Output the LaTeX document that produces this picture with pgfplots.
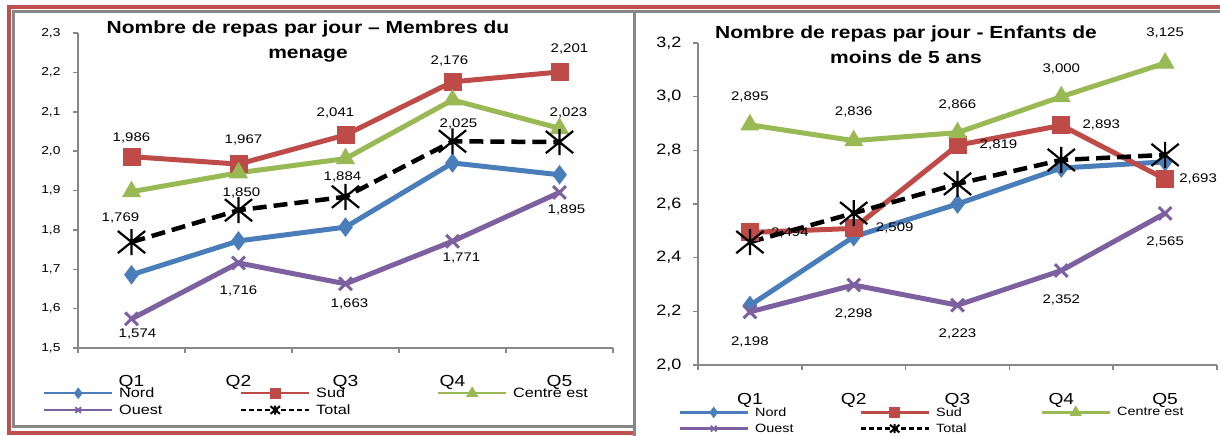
\documentclass[border=0pt]{standalone}
\usepackage{pgfplots}
\pgfplotsset{compat=1.18}
\usepackage{fontspec}
\setmainfont{Liberation Sans}[FakeStretch=1.2]

\definecolor{cnord}{HTML}{4A7EBB}
\definecolor{csud}{HTML}{BE4B48}
\definecolor{ccentre}{HTML}{98B954}
\definecolor{couest}{HTML}{7D60A0}
\definecolor{cframe}{HTML}{C0504D}
\definecolor{caxis}{HTML}{878787}

% a cross with a vertical bar through it
\pgfdeclareplotmark{xbar}{%
  \pgfpathmoveto{\pgfqpoint{0pt}{\pgfplotmarksize}}%
  \pgfpathlineto{\pgfqpoint{0pt}{-\pgfplotmarksize}}%
  \pgfpathmoveto{\pgfqpoint{-1.05\pgfplotmarksize}{0.85\pgfplotmarksize}}%
  \pgfpathlineto{\pgfqpoint{1.05\pgfplotmarksize}{-0.85\pgfplotmarksize}}%
  \pgfpathmoveto{\pgfqpoint{-1.05\pgfplotmarksize}{-0.85\pgfplotmarksize}}%
  \pgfpathlineto{\pgfqpoint{1.05\pgfplotmarksize}{0.85\pgfplotmarksize}}%
  \pgfusepathqstroke}

% value printed next to a point, three decimals with a decimal comma
\newcommand\lab{\pgfmathprintnumber[fixed,fixed zerofill,precision=3,use comma]{\pgfplotspointmeta}}
\def\leglw{2pt}

\pgfplotsset{
  repas/.style={
    scale only axis, clip=false,
    xmin=0.5, xmax=5.5,
    axis lines*=left,
    axis line style={caxis, line width=2.5pt},
    xtick={1,2,3,4,5}, xticklabels={Q1,Q2,Q3,Q4,Q5},
    minor xtick={0.5,1.5,2.5,3.5,4.5,5.5},
    major x tick style={draw=none},
    minor x tick style={caxis, line width=1.5pt},
    major y tick style={caxis, line width=1.5pt},
    tick align=outside,
    major tick length=5pt, minor tick length=5pt,
    xticklabel style={anchor=base, yshift=-34pt, font=\fontsize{16}{19}\selectfont},
    /pgf/number format/use comma,
    /pgf/number format/fixed,
    /pgf/number format/fixed zerofill,
    /pgf/number format/precision=1,
    /pgf/number format/assume math mode=true,
    every node near coord/.append style={text=black, font=\fontsize{12.5}{14}\selectfont},
    legend columns=3,
    legend cell align=left,
    legend image code/.code={\draw[mark repeat=2,mark phase=2,##1] plot coordinates {(0pt,0pt) (34pt,0pt) (68pt,0pt)};},
    legend style={draw=none, fill=none, inner sep=0pt, anchor=north west, row sep=5.5pt,
      nodes={inner sep=0pt}, /tikz/every odd column/.append style={column sep=6pt}},
  },
  nord/.style={cnord, line width=5pt, mark=diamond*, mark size=9pt, mark options={solid, line width=1pt},
    legend image post style={line width=\leglw, mark size=5pt}},
  sud/.style={csud, line width=5pt, mark=square*, mark size=8.5pt, mark options={solid, line width=1pt},
    legend image post style={line width=\leglw, mark size=5pt}},
  centre/.style={ccentre, line width=5pt, mark=triangle*, mark size=10pt, mark options={solid, line width=1pt},
    legend image post style={line width=\leglw, mark size=6pt}},
  ouest/.style={couest, line width=5pt, mark=x, mark size=9pt, mark options={solid, line width=3pt},
    legend image post style={line width=\leglw, mark size=4pt, mark options={line width=1.8pt}}},
  total/.style={black, line width=4.5pt, dash pattern=on 14pt off 7pt, mark=xbar, mark size=13pt,
    mark options={solid, line width=2.2pt},
    legend image post style={line width=\leglw, dash pattern=on 5pt off 3pt, mark size=4.5pt, mark options={solid, line width=2pt}}},
  % labels at given offsets from each of the five points
  lbl/.style 2 args={nodes near coords=\lab,
    visualization depends on={value \coordindex \as \idx},
    every node near coord/.append style={anchor=center, xshift={{#1}[\idx]}, yshift={{#2}[\idx]}}},
}

\begin{document}
\begin{tikzpicture}[x=1pt,y=1pt]
\useasboundingbox (0,0) rectangle (1220,436);
\clip (0,0) rectangle (1220,436);
% panel frames
\draw[cframe, line width=4pt] (9,3) rectangle (1240,428.5);
\draw[caxis, line width=3pt, fill=white] (13,9.5) rectangle (645,424.6);
\filldraw[fill=white, draw=caxis, line width=3pt] (634.5,-20) rectangle (1250,424.5);

% household members
\def\leglw{2pt}
\begin{axis}[repas, at={(78pt,88pt)}, anchor=south west, width=535pt, height=315pt,
  ymin=1.5, ymax=2.3, ytick={1.5,1.6,1.7,1.8,1.9,2.0,2.1,2.2,2.3},
  yticklabel style={font=\fontsize{11.5}{13}\selectfont, xshift=-9pt},
  legend style={at={(axis description cs:-0.0654,-0.124)}, font=\fontsize{13.5}{16}\selectfont},
]
\addplot[nord] coordinates {(1,1.686) (2,1.772) (3,1.807) (4,1.970) (5,1.940)};
\addlegendentry{\makebox[121pt][l]{Nord}}
\addplot[sud, lbl={0,5,-10,-3,10}{19,24,22,21,23}]
  coordinates {(1,1.986) (2,1.967) (3,2.041) (4,2.176) (5,2.201)};
\addlegendentry{\makebox[121pt][l]{Sud}}
\addplot[centre] coordinates {(1,1.897) (2,1.945) (3,1.981) (4,2.130) (5,2.058)};
\addlegendentry{Centre est}
\addplot[ouest, lbl={6,0,4,9,7}{-15,-28,-20,-17,-17}]
  coordinates {(1,1.574) (2,1.716) (3,1.663) (4,1.771) (5,1.895)};
\addlegendentry{\makebox[121pt][l]{Ouest}}
\addplot[total, lbl={-11,3,-3,6,9}{24,17,20,17,29}]
  coordinates {(1,1.769) (2,1.850) (3,1.884) (4,2.025) (5,2.023)};
\addlegendentry{\makebox[121pt][l]{Total}}
\end{axis}
\node[font=\bfseries\fontsize{17.5}{25}\selectfont, align=center] at (308,394.5)
  {Nombre de repas par jour -- Membres du\\menage};

% children under five
\def\leglw{3pt}
\begin{axis}[repas, at={(698pt,71pt)}, anchor=south west, width=519pt, height=322pt,
  ymin=2.0, ymax=3.2, ytick={2.0,2.2,2.4,2.6,2.8,3.0,3.2},
  yticklabel style={font=\fontsize{15}{18}\selectfont, xshift=-8pt},
  legend style={at={(axis description cs:-0.0385,-0.128)}, font=\fontsize{12}{14}\selectfont, row sep=6pt},
]
\addplot[nord] coordinates {(1,2.222) (2,2.478) (3,2.600) (4,2.734) (5,2.757)};
\addlegendentry{\makebox[104pt][l]{Nord}}
\addplot[sud, lbl={40,41,41,40,33}{0,0,0,0,0}]
  coordinates {(1,2.494) (2,2.509) (3,2.819) (4,2.893) (5,2.693)};
\addlegendentry{\makebox[104pt][l]{Sud}}
\addplot[centre, lbl={0,0,0,0,0}{28,29,28,28,30}]
  coordinates {(1,2.895) (2,2.836) (3,2.866) (4,3.000) (5,3.125)};
\addlegendentry{Centre est}
\addplot[ouest, lbl={0,0,0,0,0}{-30,-29,-29,-29,-29}]
  coordinates {(1,2.198) (2,2.298) (3,2.223) (4,2.352) (5,2.565)};
\addlegendentry{\makebox[104pt][l]{Ouest}}
\addplot[total] coordinates {(1,2.458) (2,2.566) (3,2.675) (4,2.764) (5,2.783)};
\addlegendentry{\makebox[104pt][l]{Total}}
\end{axis}
\node[font=\bfseries\fontsize{17.5}{25}\selectfont, align=center] at (906,391.5)
  {Nombre de repas par jour - Enfants de\\moins de 5 ans};
\end{tikzpicture}
\end{document}
